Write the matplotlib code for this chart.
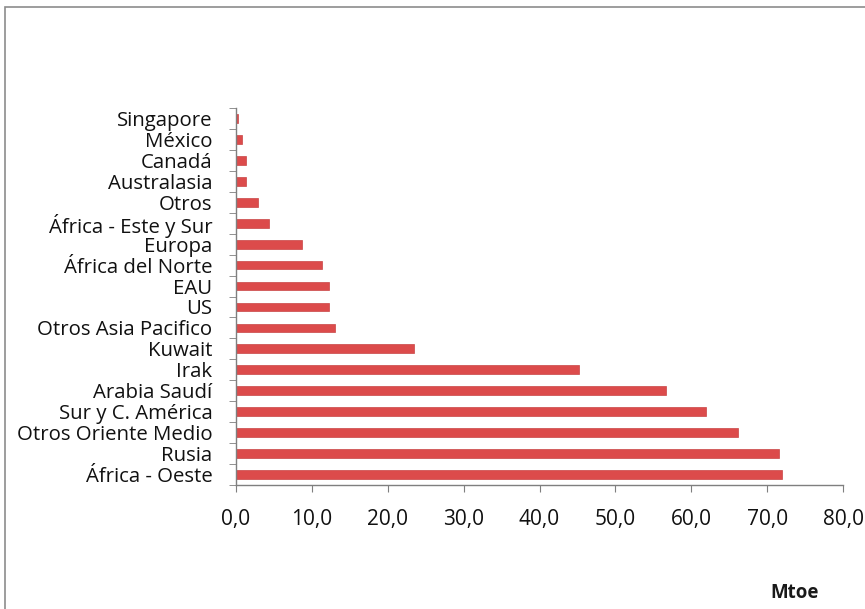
import matplotlib
matplotlib.use("Agg")
import matplotlib.pyplot as plt
from matplotlib.patches import Rectangle
from matplotlib.ticker import FuncFormatter
import numpy as np

# categories listed bottom to top
regions = ["África - Oeste", "Rusia", "Otros Oriente Medio", "Sur y C. América",
           "Arabia Saudí", "Irak", "Kuwait", "Otros Asia Pacifico", "US", "EAU",
           "África del Norte", "Europa", "África - Este y Sur", "Otros",
           "Australasia", "Canadá", "México", "Singapore"]
mtoe = [71.9, 71.6, 66.1, 62.0, 56.7, 45.2, 23.4, 13.0, 12.2, 12.3,
        11.3, 8.7, 4.3, 2.9, 1.3, 1.3, 0.75, 0.3]
x_ticks = [0, 10, 20, 30, 40, 50, 60, 70, 80]

plt.rcParams['font.family'] = ['Open Sans', 'DejaVu Sans']

fig = plt.figure(figsize=(8.65, 6.09), dpi=100)
ax = fig.add_axes([236 / 865, 1 - 485 / 609, (843 - 236) / 865, (485 - 108) / 609])

# chart area border (left and top edge visible)
fig.patches.append(Rectangle((5 / 865, -0.1), 1.2, 1 - 7 / 609 + 0.1,
                             transform=fig.transFigure, fill=False,
                             edgecolor='#8c8c8c', linewidth=1.2))

y = np.arange(len(regions))
ax.barh(y, mtoe, height=0.42, color='#DC4B4B', edgecolor='#C94444', linewidth=0.5)

ax.set_xlim(0, 80)
ax.set_ylim(-0.5, len(regions) - 0.5)
ax.set_xticks(x_ticks)
ax.xaxis.set_major_formatter(FuncFormatter(lambda v, p: f"{v:.1f}".replace('.', ',')))
ax.set_yticks(y)
ax.set_yticklabels(regions)
ax.set_yticks(np.arange(len(regions) + 1) - 0.5, minor=True)

ax.tick_params(axis='y', which='major', length=0, pad=17, labelsize=14.7, labelcolor='#111111')
ax.tick_params(axis='y', which='minor', length=5, color='#7f7f7f', direction='out')
ax.tick_params(axis='x', length=5, color='#7f7f7f', pad=12, labelsize=15, labelcolor='#111111')

for s in ['top', 'right']:
    ax.spines[s].set_visible(False)
for s in ['left', 'bottom']:
    ax.spines[s].set_color('#7f7f7f')
    ax.spines[s].set_linewidth(1.0)

fig.text(795 / 865, 1 - 593 / 609, "Mtoe", ha='center', va='center',
         fontsize=13.5, fontweight='bold', color='#1a1a1a')

fig.savefig("out.png", dpi=100, facecolor='white')
